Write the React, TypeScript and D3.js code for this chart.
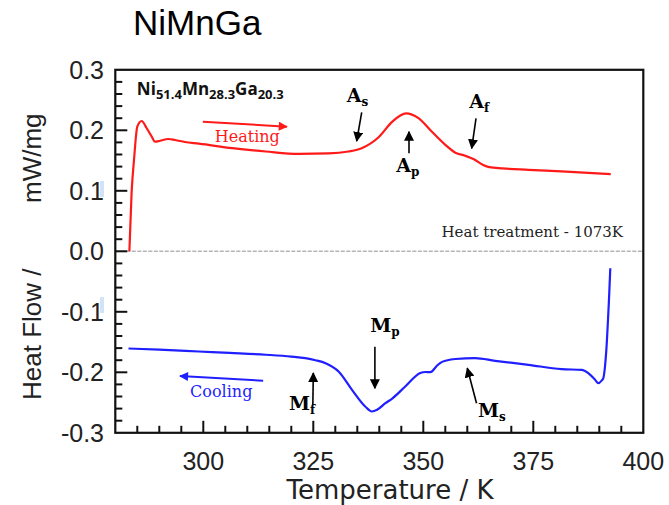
import React from "react";
import * as d3 from "d3";

const heatingT = [283.2, 283.7, 284.25, 285.0, 286.0, 287.1, 288.3, 289.0, 290.2, 292.0, 293.6, 295.8, 299.0, 306.6, 314.2, 321.7, 328.5, 333.0, 336.0, 339.9, 342.9, 346.1, 348.9, 351.9, 355.0, 357.3, 359.5, 361.5, 363.5, 365.0, 368.0, 373.9, 381.4, 392.6];
const heatingV = [0.0, 0.096, 0.151, 0.206, 0.2154, 0.2038, 0.1894, 0.1812, 0.1828, 0.1856, 0.184, 0.1807, 0.178, 0.1705, 0.165, 0.161, 0.1617, 0.165, 0.1705, 0.189, 0.214, 0.228, 0.22, 0.198, 0.176, 0.163, 0.158, 0.152, 0.143, 0.139, 0.137, 0.1347, 0.132, 0.1276];

const coolingT = [283.0, 290, 299, 306, 314.2, 320, 323.2, 325.5, 327.8, 330.8, 333.8, 336.8, 338.3, 339.5, 341.4, 343.0, 345.9, 349.3, 350.5, 351.6, 353.0, 353.8, 355.5, 357.3, 361.8, 366.3, 373.9, 381.4, 386, 387.5, 389, 389.8, 390.5, 390.9, 391.3, 391.6, 392.0, 392.2, 392.5];
const coolingV = [-0.1607, -0.1625, -0.1656, -0.168, -0.171, -0.174, -0.1766, -0.18, -0.185, -0.199, -0.229, -0.2565, -0.2648, -0.262, -0.251, -0.243, -0.2235, -0.2013, -0.1995, -0.1997, -0.19, -0.1848, -0.18, -0.178, -0.1766, -0.181, -0.1876, -0.1948, -0.1959, -0.2013, -0.212, -0.218, -0.214, -0.21, -0.19, -0.163, -0.11, -0.08, -0.028];

const xTickLabels = [300, 325, 350, 375, 400];
const yTickLabels = [0.3, 0.2, 0.1, 0.0, -0.1, -0.2, -0.3];

const annoLabels = [
  { main: "A", sub: "s", T: 335.05, V: 0.2468, x1: 336.0, y1: 0.2296, x2: 334.86, y2: 0.1823 },
  { main: "A", sub: "p", T: 346.5, V: 0.131, x1: 346.75, y1: 0.162, x2: 346.75, y2: 0.1977 },
  { main: "A", sub: "f", T: 362.7, V: 0.2369, x1: 361.98, y1: 0.2198, x2: 361.0, y2: 0.1702 },
  { main: "M", sub: "p", T: 341.3, V: -0.1334, x1: 339.0, y1: -0.1577, x2: 339.0, y2: -0.2264 },
  { main: "M", sub: "f", T: 322.45, V: -0.2616, x1: 324.9, y1: -0.254, x2: 325.0, y2: -0.2012 },
  { main: "M", sub: "s", T: 365.6, V: -0.2739, x1: 362.1, y1: -0.2512, x2: 360.0, y2: -0.1934 },
];

export default function App() {
  const left = 115.3, right = 643.3, top = 69.8, bottom = 432.8;
  const x = d3.scaleLinear().domain([280, 400]).range([left, right]);
  const y = d3.scaleLinear().domain([-0.3, 0.3]).range([bottom, top]);

  const heating = heatingT.map((t, i) => [t, heatingV[i]] as [number, number]);
  const cooling = coolingT.map((t, i) => [t, coolingV[i]] as [number, number]);
  const line = d3.line<[number, number]>().x(d => x(d[0])).y(d => y(d[1])).curve(d3.curveMonotoneX);

  const xMinor = d3.range(285, 400, 5);
  const yMinor = d3.range(-0.28, 0.2999, 0.02);
  const isMajorX = (t: number) => Math.abs(t % 25) < 1e-6;
  const isMajorY = (v: number) => Math.abs(Math.round(v * 10) - v * 10) < 1e-6;

  const sans = "'Liberation Sans', Arial, sans-serif";
  const serif = "'DejaVu Serif', serif";

  return (
    <svg width={669} height={505} style={{ position: "absolute", left: 0, top: 0, background: "#fff" }}>
      <defs>
        <marker id="ahB" viewBox="0 0 10 10" refX="9" refY="5" markerWidth="10" markerHeight="10" markerUnits="userSpaceOnUse" orient="auto">
          <path d="M0,0 L10,5 L0,10 z" fill="#000" />
        </marker>
        <marker id="ahR" viewBox="0 0 10 10" refX="9" refY="5" markerWidth="10" markerHeight="9" markerUnits="userSpaceOnUse" orient="auto">
          <path d="M0,0 L10,5 L0,10 z" fill="#ff1a1a" />
        </marker>
        <marker id="ahU" viewBox="0 0 10 10" refX="9" refY="5" markerWidth="10" markerHeight="9" markerUnits="userSpaceOnUse" orient="auto">
          <path d="M0,0 L10,5 L0,10 z" fill="#1f1fff" />
        </marker>
      </defs>

      <text x={133} y={35} fontFamily={sans} fontSize={35} fill="#000">NiMnGa</text>

      <line x1={left} x2={right} y1={y(0)} y2={y(0)} stroke="#b5b5b5" strokeWidth={1.5} strokeDasharray="4,1.5" />

      {xMinor.map(t => (
        <line key={"xt" + t} x1={x(t)} x2={x(t)} y1={bottom} y2={bottom - (isMajorX(t) ? 12 : 7)} stroke="#111" strokeWidth={2} />
      ))}
      {yMinor.map(v => (
        <line key={"yt" + v.toFixed(2)} x1={left} x2={left + (isMajorY(v) ? 12 : 7)} y1={y(v)} y2={y(v)} stroke="#111" strokeWidth={2} />
      ))}

      <rect x={left} y={top} width={right - left} height={bottom - top} fill="none" stroke="#111" strokeWidth={2.2} />

      <path d={line(heating) || ""} fill="none" stroke="#ff1a1a" strokeWidth={2.2} />
      <path d={line(cooling) || ""} fill="none" stroke="#1f1fff" strokeWidth={2.2} />

      {xTickLabels.map(t => (
        <text key={"xl" + t} x={x(t)} y={470} textAnchor="middle" fontFamily={sans} fontSize={25} fill="#222">{t}</text>
      ))}
      {yTickLabels.map(v => (
        <text key={"yl" + v} x={104} y={y(v)} dy="0.35em" textAnchor="end" fontFamily={sans} fontSize={25} fill="#222">{v.toFixed(1)}</text>
      ))}

      <text x={390} y={499} textAnchor="middle" fontFamily="'DejaVu Sans', sans-serif" fontSize={26} fill="#222">Temperature / K</text>
      <text transform="translate(41,400) rotate(-90)" fontFamily={sans} fontSize={26} fill="#222">Heat Flow /</text>
      <text transform="translate(41,203) rotate(-90)" fontFamily={sans} fontSize={26} fill="#222">mW/mg</text>

      <text x={x(284.9)} y={y(0.2583)} fontFamily="'Open Sans', sans-serif" fontWeight="bold" fontSize={17} fill="#111">
        Ni<tspan fontSize={13} dy={4}>51.4</tspan><tspan dy={-4}>Mn</tspan><tspan fontSize={13} dy={4}>28.3</tspan><tspan dy={-4}>Ga</tspan><tspan fontSize={13} dy={4}>20.3</tspan>
      </text>

      <line x1={x(299.9)} y1={y(0.2142)} x2={x(319.0)} y2={y(0.206)} stroke="#ff1a1a" strokeWidth={2} markerEnd="url(#ahR)" />
      <text x={x(302.6)} y={y(0.1812)} fontFamily={serif} fontSize={16} fill="#ff1a1a">Heating</text>
      <line x1={x(313.6)} y1={y(-0.2139)} x2={x(294.7)} y2={y(-0.2061)} stroke="#1f1fff" strokeWidth={2} markerEnd="url(#ahU)" />
      <text x={x(297.0)} y={y(-0.2403)} fontFamily={serif} fontSize={16} fill="#1f1fff">Cooling</text>

      <text x={x(395.4)} y={y(0.0241)} textAnchor="end" fontFamily={serif} fontSize={15} fill="#222">Heat treatment - 1073K</text>

      {annoLabels.map((a, i) => (
        <g key={"an" + i}>
          <line x1={x(a.x1)} y1={y(a.y1)} x2={x(a.x2)} y2={y(a.y2)} stroke="#000" strokeWidth={1.6} markerEnd="url(#ahB)" />
          <text x={x(a.T)} y={y(a.V)} textAnchor="middle" fontFamily={serif} fontWeight="bold" fontSize={19} fill="#000">
            {a.main}<tspan fontSize={12} dy={4}>{a.sub}</tspan>
          </text>
        </g>
      ))}

      <rect x={100} y={181} width={4} height={16} fill="#d3e3f6" />
      <rect x={100} y={297} width={4} height={16} fill="#d3e3f6" />
    </svg>
  );
}
